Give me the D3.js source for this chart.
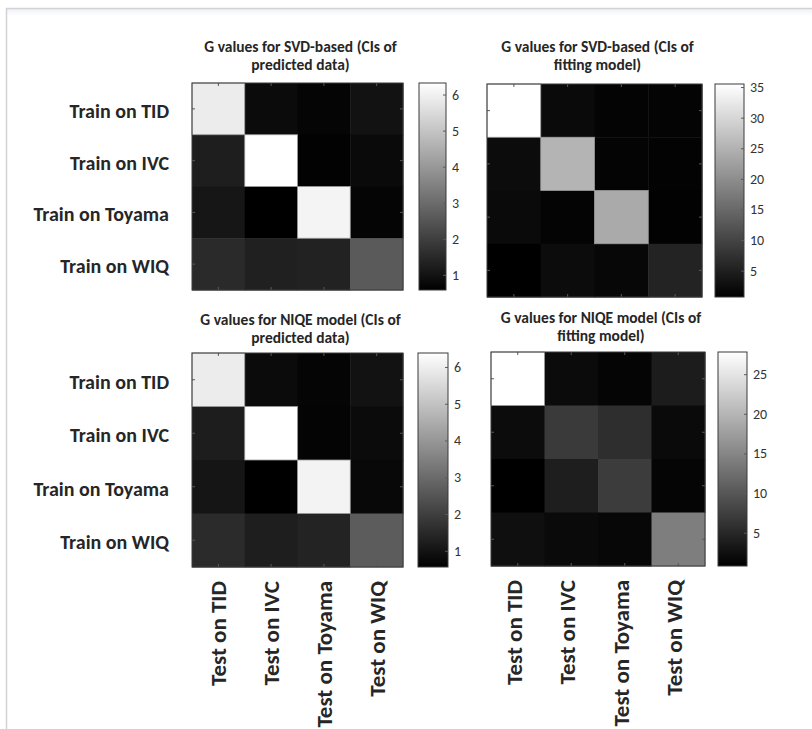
<!DOCTYPE html>
<html>
<head>
<meta charset="utf-8">
<script src="https://cdn.jsdelivr.net/npm/d3@7/dist/d3.min.js"></script>
<style>
  html, body { margin: 0; padding: 0; background: #ffffff; }
  svg { display: block; }
  .lbl { font-family: Carlito, Calibri, Lato, "Open Sans", sans-serif; font-weight: 700; fill: #262626; }
  .tick text { font-family: Carlito, Calibri, Lato, "Open Sans", sans-serif; }
</style>
</head>
<body>
<svg id="chart" width="812" height="729"></svg>
<script>
// ---------------- data ----------------
const rowLabels = ["Train on TID", "Train on IVC", "Train on Toyama", "Train on WIQ"];
const colLabels = ["Test on TID", "Test on IVC", "Test on Toyama", "Test on WIQ"];

const titleSvdPred = ["G values for SVD-based (CIs of", "predicted data)"];
const titleSvdFit  = ["G values for SVD-based (CIs of", "fitting model)"];
const titleNiqePred = ["G values for NIQE model (CIs of", "predicted data)"];
const titleNiqeFit  = ["G values for NIQE model (CIs of", "fitting model)"];

// rows = train set, columns = test set
const svdPred = [
  [5.89, 0.83, 0.69, 0.99],
  [1.26, 6.32, 0.62, 0.80],
  [1.08, 0.58, 6.07, 0.70],
  [1.53, 1.30, 1.35, 2.61]
];
const svdFit = [
  [35.5, 2.0, 1.3, 1.2],
  [2.3, 25.3, 1.2, 1.1],
  [2.0, 1.3, 23.9, 1.0],
  [0.7, 2.4, 1.6, 5.5]
];
const niqePred = [
  [5.95, 0.80, 0.68, 0.98],
  [1.22, 6.38, 0.66, 0.82],
  [1.05, 0.56, 6.10, 0.74],
  [1.55, 1.25, 1.36, 2.66]
];
const niqeFit = [
  [27.8, 2.0, 1.3, 3.8],
  [2.1, 6.9, 5.7, 1.9],
  [0.8, 4.0, 7.2, 1.3],
  [2.4, 1.9, 1.5, 14.1]
];

const ticksSmall = [1, 2, 3, 4, 5, 6];
const ticksSvdFit = [5, 10, 15, 20, 25, 30, 35];
const ticksNiqeFit = [5, 10, 15, 20, 25];

// ---------------- layout ----------------
const panels = [
  { data: svdPred,  title: titleSvdPred,  ticks: ticksSmall,  x0: 192, x1: 403, y0: 83,  y1: 290, cb: [419, 446], rowLab: true,  colLab: false, titleY: 47 },
  { data: svdFit,   title: titleSvdFit,   ticks: ticksSvdFit, x0: 487, x1: 702, y0: 84,  y1: 297, cb: [715, 744], rowLab: false, colLab: false, titleY: 47 },
  { data: niqePred, title: titleNiqePred, ticks: ticksSmall,  x0: 192, x1: 403, y0: 353, y1: 567, cb: [418, 448], rowLab: true,  colLab: true,  titleY: 320 },
  { data: niqeFit,  title: titleNiqeFit,  ticks: ticksNiqeFit,x0: 491, x1: 705, y0: 352, y1: 566, cb: [718, 747], rowLab: false, colLab: true,  titleY: 318 }
];

const svg = d3.select("#chart");

// page frame
const defs = svg.append("defs");
const topGrad = defs.append("linearGradient").attr("id", "topband").attr("x1", 0).attr("x2", 0).attr("y1", 0).attr("y2", 1);
topGrad.append("stop").attr("offset", "0%").attr("stop-color", "#edf2f8");
topGrad.append("stop").attr("offset", "100%").attr("stop-color", "#ffffff");
svg.append("rect").attr("x", 7).attr("y", 9).attr("width", 805).attr("height", 7).attr("fill", "url(#topband)");
svg.append("path").attr("d", "M6.5,729 V8.5 H812").attr("fill", "none").attr("stroke", "#d2d2d2").attr("stroke-width", 1.5);

const cbGrad = defs.append("linearGradient").attr("id", "cbgrad").attr("x1", 0).attr("x2", 0).attr("y1", 1).attr("y2", 0);
cbGrad.append("stop").attr("offset", "0%").attr("stop-color", "#000000");
cbGrad.append("stop").attr("offset", "100%").attr("stop-color", "#ffffff");

panels.forEach((p, pi) => {
  const g = svg.append("g");
  const ext = d3.extent(p.data.flat());
  const color = d3.scaleLinear().domain(ext).range(["#000000", "#ffffff"]).clamp(true);
  const x = d3.scaleBand().domain(colLabels).range([p.x0, p.x1]);
  const y = d3.scaleBand().domain(rowLabels).range([p.y0, p.y1]);

  // cells
  const cells = [];
  p.data.forEach((row, i) => row.forEach((v, j) => cells.push({ r: rowLabels[i], c: colLabels[j], v })));
  g.selectAll("rect.cell").data(cells).join("rect")
    .attr("class", "cell")
    .attr("x", d => x(d.c)).attr("y", d => y(d.r))
    .attr("width", x.bandwidth() + 0.5).attr("height", y.bandwidth() + 0.5)
    .attr("fill", d => color(d.v));

  // light edges around bright cells (anti-alias look)
  g.selectAll("rect.edge").data(cells.filter(d => (d.v - ext[0]) / (ext[1] - ext[0]) > 0.6)).join("rect")
    .attr("class", "edge")
    .attr("x", d => x(d.c)).attr("y", d => y(d.r))
    .attr("width", x.bandwidth()).attr("height", y.bandwidth())
    .attr("fill", "none").attr("stroke", "#9a9a9a").attr("stroke-width", 0.8);

  // axes ticks (inward, all sides)
  const tl = 3;
  g.append("g").attr("transform", `translate(0,${p.y1})`).call(d3.axisTop(x).tickSize(tl).tickFormat("").tickSizeOuter(0));
  g.append("g").attr("transform", `translate(0,${p.y0})`).call(d3.axisBottom(x).tickSize(tl).tickFormat("").tickSizeOuter(0));
  g.append("g").attr("transform", `translate(${p.x0},0)`).call(d3.axisRight(y).tickSize(tl).tickFormat("").tickSizeOuter(0));
  g.append("g").attr("transform", `translate(${p.x1},0)`).call(d3.axisLeft(y).tickSize(tl).tickFormat("").tickSizeOuter(0));
  g.selectAll(".domain").remove();
  g.selectAll(".tick line").attr("stroke", "#5a5a5a");

  // axes box
  g.append("rect").attr("x", p.x0).attr("y", p.y0).attr("width", p.x1 - p.x0).attr("height", p.y1 - p.y0)
    .attr("fill", "none").attr("stroke", "#3a3a3a").attr("stroke-width", 1);

  // row labels
  if (p.rowLab) {
    g.selectAll("text.row").data(rowLabels).join("text")
      .attr("class", "lbl row")
      .attr("x", 169).attr("y", d => y(d) + y.bandwidth() / 2 + 2)
      .attr("dy", "0.35em").attr("text-anchor", "end")
      .style("font-size", "20px")
      .text(d => d);
  }
  // column labels
  if (p.colLab) {
    g.selectAll("text.col").data(colLabels).join("text")
      .attr("class", "lbl col")
      .attr("transform", d => `translate(${x(d) + x.bandwidth() / 2 - (pi === 3 ? 4 : 0)},${p.y1 + 14}) rotate(-90)`)
      .attr("dy", "0.35em").attr("text-anchor", "end")
      .style("font-size", "23px")
      .text(d => d);
  }

  // title
  const cx = (p.x0 + p.x1) / 2 + 3;
  g.selectAll("text.title").data(p.title).join("text")
    .attr("class", "lbl title")
    .attr("x", cx).attr("y", (d, i) => p.titleY + i * 18)
    .attr("dy", "0.35em").attr("text-anchor", "middle")
    .style("font-size", "15.5px")
    .text(d => d);

  // colorbar
  const cby = d3.scaleLinear().domain(ext).range([p.y1, p.y0]);
  g.append("rect").attr("x", p.cb[0]).attr("y", p.y0).attr("width", p.cb[1] - p.cb[0]).attr("height", p.y1 - p.y0)
    .attr("fill", "url(#cbgrad)").attr("stroke", "#3a3a3a").attr("stroke-width", 1);
  const cbAxis = g.append("g").attr("transform", `translate(${p.cb[1]},0)`)
    .call(d3.axisRight(cby).tickValues(p.ticks).tickSize(0).tickPadding(6).tickFormat(d3.format("d")));
  cbAxis.select(".domain").remove();
  cbAxis.selectAll(".tick text").style("font-size", "14px").attr("fill", "#333");
  cbAxis.selectAll(".tick").append("line").attr("x1", -3).attr("x2", 0).attr("stroke", "#5a5a5a");
});
</script>
</body>
</html>
